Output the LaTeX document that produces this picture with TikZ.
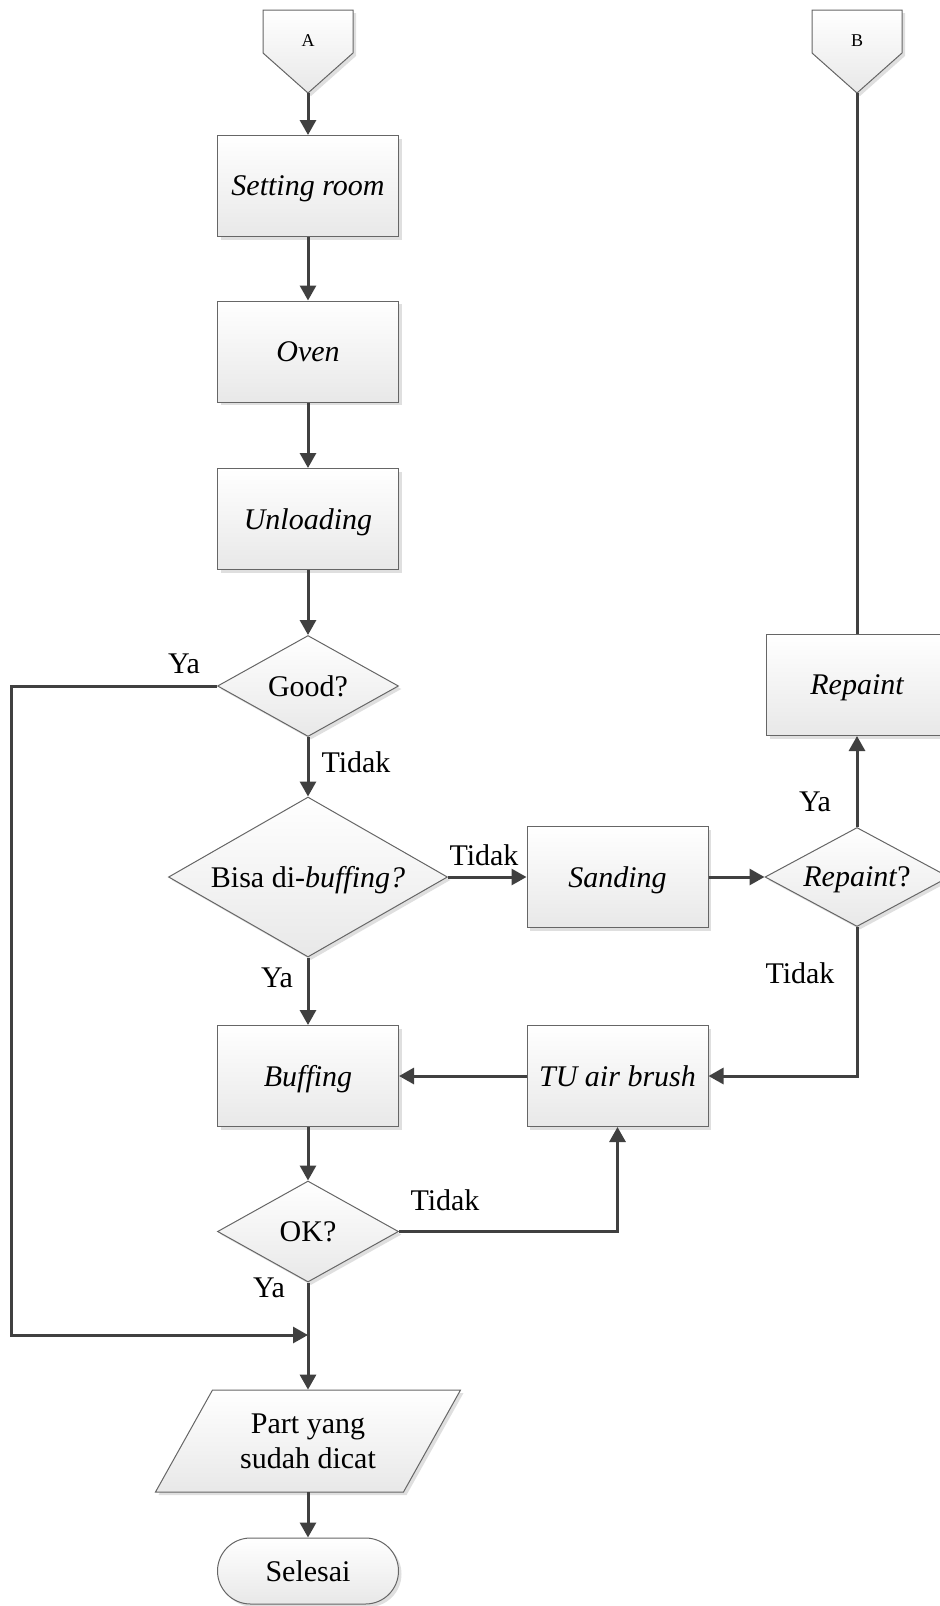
\documentclass[tikz,border=0pt]{standalone}
\usepackage{fontspec}
\setmainfont{Liberation Serif}
\usetikzlibrary{shapes.geometric,arrows.meta,shadows}
\begin{document}
\begin{tikzpicture}[x=0.5pt,y=-0.5pt,
  every node/.style={font=\fontsize{15}{17.5}\selectfont, text depth=0pt},
  fc/.style={draw=black!60, line width=0.5pt, top color=white, bottom color=black!9,
    drop shadow={shadow xshift=1.5pt, shadow yshift=-1.5pt, fill=black!25, opacity=0.5}},
  proc/.style={fc, rectangle, minimum width=90.5pt, minimum height=50.5pt, inner sep=0pt},
  dec/.style={fc, diamond, inner sep=0pt},
  conn/.style={draw=black!75, line width=1.5pt},
  arr/.style={conn, -{Triangle[length=7.5pt,width=8pt]}},
  lbl/.style={inner sep=0pt},
  offp/.style={font=\fontsize{9}{10}\selectfont, inner sep=0pt}
]
\useasboundingbox (0,0) rectangle (939,1606);

% off-page connectors
\path[fc] (263,10) -- (353,10) -- (353,53) -- (308,93) -- (263,53) -- cycle;
\node[offp] (A) at (308,41) {A};
\coordinate (Aend) at (308,93);
\path[fc] (812,10) -- (902,10) -- (902,53) -- (857,93) -- (812,53) -- cycle;
\node[offp] (B) at (857,41) {B};
\coordinate (Bend) at (857,93);

% process boxes
\node[proc] (setting) at (308,186) {\itshape Setting room};
\node[proc] (oven) at (308,351.5) {\itshape Oven};
\node[proc] (unload) at (308,519) {\itshape Unloading};
\node[dec, shape aspect=1.8, minimum width=90.5pt, minimum height=50.5pt] (good) at (308,686) {Good?};
\node[dec, shape aspect=1.74, minimum width=139.5pt, minimum height=80pt] (bisa) at (308,877) {Bisa di-\textit{buffing?}};
\node[proc] (sanding) at (617.5,877) {\itshape Sanding};
\node[dec, shape aspect=1.86, minimum width=92pt, minimum height=49.5pt] (repq) at (857,877) {\textit{Repaint}?};
\node[proc] (repaint) at (857,685) {\itshape Repaint};
\node[proc] (buffing) at (308,1076) {\itshape Buffing};
\node[proc] (tu) at (617.5,1076) {\itshape TU air brush};
\node[dec, shape aspect=1.8, minimum width=90.5pt, minimum height=50.5pt] (ok) at (308,1231.5) {OK?};

% output parallelogram
\path[fc] (212.5,1390) -- (460.5,1390) -- (403.5,1492) -- (155.5,1492) -- cycle;
\node[inner sep=0pt, minimum width=124pt, minimum height=51pt, align=center] (part) at (308,1441) {Part yang\\sudah dicat};

% terminal
\node[fc, rectangle, rounded corners=16.5pt, minimum width=90.5pt, minimum height=33pt, inner sep=0pt] (selesai) at (308,1571) {Selesai};

% connectors
\draw[arr] (Aend) -- (setting.north);
\draw[arr] (setting.south) -- (oven.north);
\draw[arr] (oven.south) -- (unload.north);
\draw[arr] (unload.south) -- (good.north);
\draw[arr] (good.south) -- (bisa.north);
\draw[arr] (bisa.south) -- (buffing.north);
\draw[arr] (buffing.south) -- (ok.north);
\draw[arr] (ok.south) -- (part.north);
\draw[arr] (part.south) -- (selesai.north);
\draw[arr] (bisa.east) -- (sanding.west);
\draw[arr] (sanding.east) -- (repq.west);
\draw[arr] (repq.north) -- (repaint.south);
\draw[conn] (Bend) -- (repaint.north);
\draw[arr] (repq.south) |- (tu.east);
\draw[arr] (tu.west) -- (buffing.east);
\draw[arr] (ok.east) -| (tu.south);
\coordinate (join) at (308,1335);
\draw[arr] (good.west) -- ++(-205.5,0) |- (join);

% labels
\node[lbl] (l1) at (184,664) {Ya};
\node[lbl] (l2) at (356,762) {Tidak};
\node[lbl] (l3) at (484,855) {Tidak};
\node[lbl] (l4) at (277,978) {Ya};
\node[lbl] (l5) at (815,802) {Ya};
\node[lbl] (l6) at (800,973) {Tidak};
\node[lbl] (l7) at (445,1200) {Tidak};
\node[lbl] (l8) at (269,1288) {Ya};
\end{tikzpicture}
\end{document}
